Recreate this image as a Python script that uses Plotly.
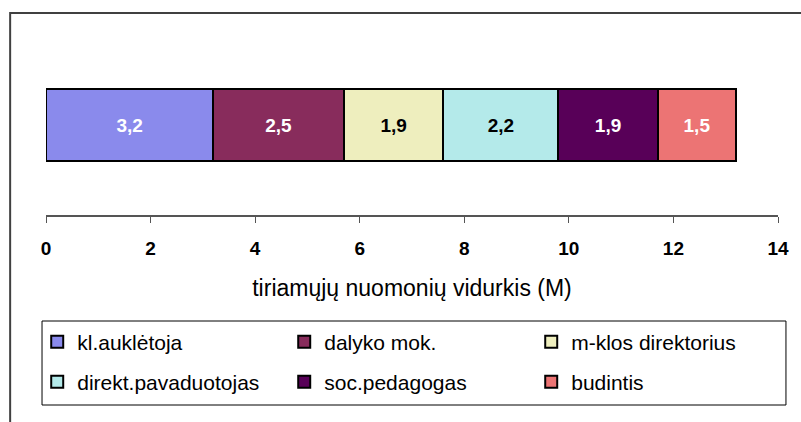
import plotly.graph_objects as go

# --- data ---
groups = ["kl.auklėtoja", "dalyko mok.", "m-klos direktorius",
          "direkt.pavaduotojas", "soc.pedagogas", "budintis"]
means = [3.2, 2.5, 1.9, 2.2, 1.9, 1.5]
colors = ["#8A8AEC", "#882C5C", "#EEEEBE", "#B4EAEA", "#580058", "#EC7474"]
label_colors = ["white", "white", "black", "black", "white", "white"]
x_title = "tiriamųjų nuomonių vidurkis (M)"
FONT = "Liberation Sans, Arial, sans-serif"

fig = go.Figure()
for i, (g, m) in enumerate(zip(groups, means)):
    fig.add_trace(go.Bar(
        x=[m], y=[0], name=g, orientation="h", width=0.725,
        marker=dict(color=colors[i], line=dict(color="black", width=2)),
        texttemplate="%{x:.1f}", textposition="inside",
        insidetextanchor="middle",
        textfont=dict(color=label_colors[i], size=19, family=FONT, weight="bold"),
        legend="legend" if i < 3 else "legend2",
    ))

# outer chart border (only left/top visible in the frame)
fig.add_shape(type="rect", xref="paper", yref="paper",
              x0=-36 / 735, x1=830 / 735, y0=-220 / 175, y1=202 / 175,
              line=dict(color="#404040", width=2), layer="below")
# legend box
fig.add_shape(type="rect", xref="paper", yref="paper",
              x0=-4 / 735, x1=743 / 735, y0=-190 / 175, y1=-106 / 175,
              line=dict(color="black", width=1))

leg = dict(orientation="h", xanchor="left", yanchor="middle",
           font=dict(size=21, family=FONT, color="black"),
           bgcolor="rgba(0,0,0,0)", entrywidth=202, itemwidth=30,
           traceorder="normal")

fig.update_layout(
    width=801, height=422,
    margin=dict(l=46, r=20, t=40, b=207),
    paper_bgcolor="white", plot_bgcolor="white",
    barmode="stack", separators=", ",
    font=dict(family=FONT, color="black"),
    showlegend=True,
    legend=dict(leg, x=-0.012, y=-127 / 175),
    legend2=dict(leg, x=-0.012, y=-167 / 175),
    xaxis=dict(range=[0, 14], dtick=2, tick0=0, showgrid=False, zeroline=False,
               showline=True, linecolor="#555555", linewidth=1.5,
               ticks="outside", ticklen=6, tickcolor="#555555",
               tickfont=dict(size=19, family=FONT, weight="bold"),
               ticklabelstandoff=9,
               title=dict(text=x_title, font=dict(size=23, family=FONT), standoff=22)),
    yaxis=dict(range=[-0.9, 0.85], visible=False, fixedrange=True),
)

fig.write_html("out.html", config={"displayModeBar": False},
               post_script="document.body.style.margin='0';")
